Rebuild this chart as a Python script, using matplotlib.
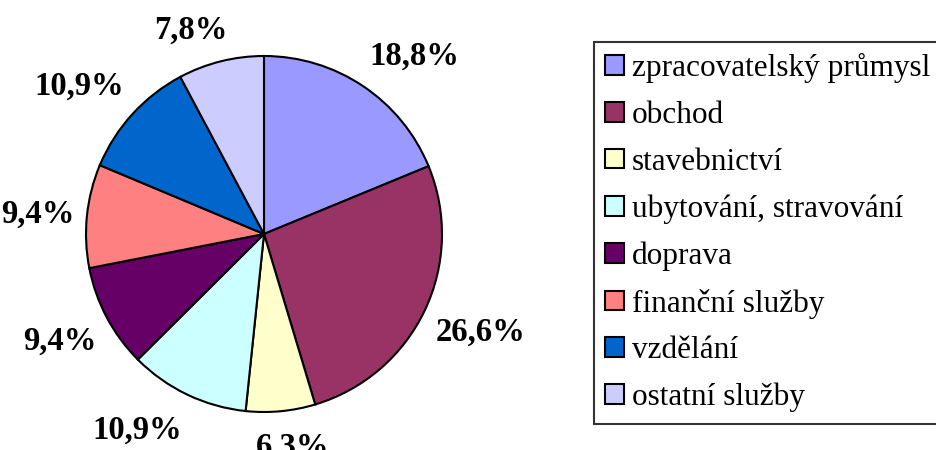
import numpy as np
import matplotlib.pyplot as plt
from matplotlib.patches import Patch

# shares of sectors (%)
sectors = ['zpracovatelský průmysl', 'obchod', 'stavebnictví',
           'ubytování, stravování', 'doprava', 'finanční služby',
           'vzdělání', 'ostatní služby']
shares = [18.8, 26.6, 6.3, 10.9, 9.4, 9.4, 10.9, 7.8]
colors = ['#9999FF', '#993366', '#FFFFCC', '#CCFFFF',
          '#660066', '#FF8080', '#0066CC', '#CCCCFF']

plt.rcParams['font.family'] = ['Liberation Serif', 'DejaVu Serif']

fig = plt.figure(figsize=(9.36, 4.5), dpi=100)
ax = fig.add_axes([0, 0, 1, 1])
ax.set_aspect('equal')
ax.axis('off')

# axes spans the figure, one data unit = one pixel
cx, cy, r = 264, 450 - 234, 178
wedges, _ = ax.pie(shares, colors=colors, startangle=90, counterclock=False,
                   radius=r, center=(cx, cy),
                   wedgeprops={'edgecolor': 'black', 'linewidth': 1.5})
ax.set_xlim(0, 936)
ax.set_ylim(0, 450)

# percentage labels outside the slices
renderer = fig.canvas.get_renderer()
for w, v in zip(wedges, shares):
    ang = np.deg2rad((w.theta1 + w.theta2) / 2)
    c, s = np.cos(ang), np.sin(ang)
    t = ax.text(0, 0, f'{v:.1f}%'.replace('.', ','), ha='center',
                va='baseline', fontsize=23.5, fontweight='bold')
    hw = t.get_window_extent(renderer).width / 2
    d = r + 12
    x = cx + d * c + np.clip(3 * c, -1, 1) * hw
    y = cy + d * s + np.clip(1.5 * s, -1, 1) * 22 - 11
    t.set_position((x, y))

handles = [Patch(facecolor=c, edgecolor='black', linewidth=1.5) for c in colors]
leg = fig.legend(handles, sectors, loc='upper left',
                 bbox_to_anchor=(594 / 936, 1 - 42 / 450),
                 fontsize=22.5, frameon=True, fancybox=False,
                 handlelength=0.6, handleheight=0.6, handletextpad=0.25,
                 labelspacing=0.565, borderpad=0.36, borderaxespad=0)
leg.get_frame().set_edgecolor('black')
leg.get_frame().set_linewidth(1.5)

fig.savefig('out.png', dpi=100)
